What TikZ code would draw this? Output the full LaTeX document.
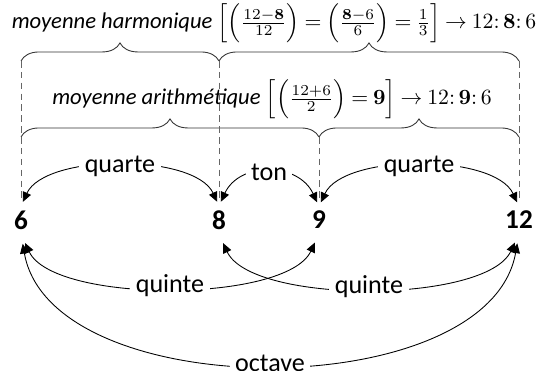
\documentclass[tikz,border=0pt]{standalone}
\usepackage[no-math]{fontspec}
\setmainfont{Carlito}
\usetikzlibrary{arrows.meta,decorations.pathreplacing}

\tikzset{
  num/.style={font=\fontsize{12.5}{14}\selectfont\bfseries, inner sep=2pt},
  lbl/.style={font=\fontsize{12}{14}\selectfont, fill=white, inner sep=2.5pt},
  mean/.style={font=\fontsize{10.4}{13}\selectfont, inner sep=0pt},
  guide/.style={densely dashed, black!60, thin},
  bracefig/.style={decorate, decoration={brace, amplitude=8.3pt}, thin, black!80},
  up/.style={<->, shorten <=2pt, shorten >=2pt},
  down/.style={<->, shorten <=4.5pt, shorten >=4.5pt},
}

\begin{document}
\begin{tikzpicture}[x=0.46pt, y=-0.46pt, >={Triangle[length=4.5pt,width=4pt]}, thin]
    \useasboundingbox (0,0) rectangle (544,371);

    % Means
    \node[mean] (harm) at (274,23) {\thickmuskip=4mu plus 2mu\textit{moyenne harmonique} $\Bigl[\Bigl(\frac{12-\mathbf{8}}{12}\Bigr)=\Bigl(\frac{\mathbf{8}-6}{6}\Bigr)=\frac{1}{3}\Bigr]\rightarrow 12{:}\,\mathbf{8}{:}\,6$};
    \node[mean] (arith) at (272,99) {\thickmuskip=4mu plus 2mu\textit{moyenne arithmétique} $\Bigl[\Bigl(\frac{12+6}{2}\Bigr)=\mathbf{9}\Bigr]\rightarrow 12{:}\,\mathbf{9}{:}\,6$};

    % Braces
    \coordinate (h6) at (21,61);
    \coordinate (h8) at (219,61);
    \coordinate (h12) at (519,61);
    \coordinate (a6) at (21,137);
    \coordinate (a9) at (319,137);
    \coordinate (a12) at (519,137);
    \draw[bracefig] (h6) -- (h8);
    \draw[bracefig] (h8) -- (h12);
    \draw[bracefig] (a6) -- (a9);
    \draw[bracefig] (a9) -- (a12);

    % Numbers
    \node[num] (n6) at (21,220) {6};
    \node[num] (n8) at (219,220) {8};
    \node[num] (n9) at (319,220) {9};
    \node[num] (n12) at (519,220) {12};

    % Guides
    \draw[guide, shorten >=2pt] (h6) -- (n6.north);
    \draw[guide, shorten >=2pt] (h8) -- (n8.north);
    \draw[guide, shorten >=2pt] (a9) -- (n9.north);
    \draw[guide, shorten >=2pt] (h12) -- (n12.north);

    % Intervals above
    \draw[up] (n6.north) to[out=65, in=115, looseness=0.75] node[lbl] (q1) {quarte} (n8.north);
    \draw[up] (n8.north) to[out=65, in=115, looseness=1.25] node[lbl] (t1) {ton} (n9.north);
    \draw[up] (n9.north) to[out=65, in=115, looseness=0.75] node[lbl] (q2) {quarte} (n12.north);

    % Intervals below
    \draw[down] (n6.south) to[out=-65, in=-115, looseness=0.66] node[lbl] (f1) {quinte} (n9.south);
    \draw[down] (n8.south) to[out=-65, in=-115, looseness=0.66] node[lbl] (f2) {quinte} (n12.south);
    \draw[down] (n6.south) to[out=-80, in=-100, looseness=0.9] node[lbl] (o1) {octave} (n12.south);
\end{tikzpicture}
\end{document}
